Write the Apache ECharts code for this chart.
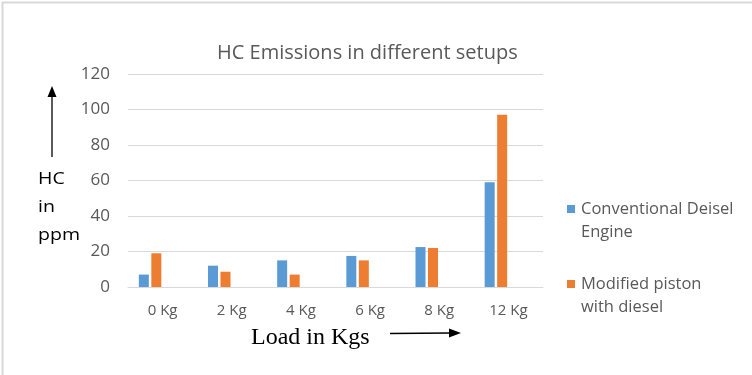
<!DOCTYPE html>
<html>
<head>
<meta charset="utf-8">
<script src="https://cdn.jsdelivr.net/npm/echarts@6/dist/echarts.min.js"></script>
<style>html,body{margin:0;padding:0;background:#fff}#c{width:752px;height:375px}</style>
</head>
<body>
<div id="c"></div>
<script>
const categories = ['0 Kg', '2 Kg', '4 Kg', '6 Kg', '8 Kg', '12 Kg'];
const conventional = [7, 12, 15, 17.5, 22.5, 59];
const modified = [19, 8.6, 7, 15, 22, 97];
const seriesNames = ['Conventional Deisel Engine', 'Modified piston with diesel'];
const legendLines = [['Conventional Deisel', 'Engine'], ['Modified piston', 'with diesel']];
const yTicks = [0, 20, 40, 60, 80, 100, 120];
const colors = ['#5b9bd5', '#ed7d31'];

const font = '"Open Sans", Lato, sans-serif';
const chart = echarts.init(document.getElementById('c'), null, {renderer: 'canvas'});

const legendGraphics = [];
legendLines.forEach((lines, i) => {
  const yc = 209 + i * 75;
  legendGraphics.push({type: 'rect', left: 567, top: yc - 4, shape: {width: 8, height: 8}, style: {fill: colors[i]}});
  lines.forEach((t, j) => {
    legendGraphics.push({type: 'text', x: 581, y: yc + j * 23,
      style: {text: t, fill: '#595959', font: '16.5px ' + font, verticalAlign: 'middle'}});
  });
});

const sideLabel = ['HC', 'in', 'ppm'].map((t, i) => ({
  type: 'text', x: 38, y: 171 + i * 28, scaleX: 1.15,
  style: {text: t, fill: '#000', font: '17px ' + font}
}));

chart.setOption({
  animation: false,
  backgroundColor: '#fff',
  title: {text: 'HC Emissions in different setups', left: 212, top: 38,
    textStyle: {color: '#595959', fontSize: 20, fontWeight: 'normal', fontFamily: font}},
  grid: {left: 128, right: 209, top: 74, bottom: 88},
  xAxis: {type: 'category', data: categories,
    axisLine: {lineStyle: {color: '#d9d9d9'}}, axisTick: {show: false},
    axisLabel: {color: '#595959', fontSize: 15, fontFamily: font, margin: 16}},
  yAxis: {type: 'value', min: yTicks[0], max: yTicks[yTicks.length - 1], interval: 20,
    axisLine: {show: false}, axisTick: {show: false},
    splitLine: {lineStyle: {color: '#d9d9d9'}},
    axisLabel: {color: '#595959', fontSize: 17, fontFamily: font, margin: 18}},
  series: [
    {name: seriesNames[0], type: 'bar', data: conventional, itemStyle: {color: colors[0]}, barWidth: 10, barGap: '25%'},
    {name: seriesNames[1], type: 'bar', data: modified, itemStyle: {color: colors[1]}, barWidth: 10, barGap: '25%'},
    {name: 'empty1', type: 'bar', data: categories.map(() => null), barWidth: 10, barGap: '25%'},
    {name: 'empty2', type: 'bar', data: categories.map(() => null), barWidth: 10, barGap: '25%'}
  ],
  graphic: [
    {type: 'rect', left: 0, top: 0, shape: {x: 0.5, y: 0.5, width: 751, height: 374},
      style: {fill: 'none', stroke: '#d9d9d9', lineWidth: 2}},
    {type: 'line', shape: {x1: 52, y1: 157, x2: 52, y2: 95}, style: {stroke: '#000', lineWidth: 1.3}},
    {type: 'polygon', shape: {points: [[52, 86], [47.5, 97], [56.5, 97]]}, style: {fill: '#000'}},
    {type: 'text', left: 251, top: 326, style: {text: 'Load in Kgs', fill: '#000', font: '24px "Liberation Serif", "DejaVu Serif", serif'}},
    {type: 'line', shape: {x1: 390, y1: 333.5, x2: 450, y2: 333}, style: {stroke: '#000', lineWidth: 1.3}},
    {type: 'polygon', shape: {points: [[461, 333], [449, 328.5], [449, 337.5]]}, style: {fill: '#000'}}
  ].concat(sideLabel, legendGraphics)
});
</script>
</body>
</html>
